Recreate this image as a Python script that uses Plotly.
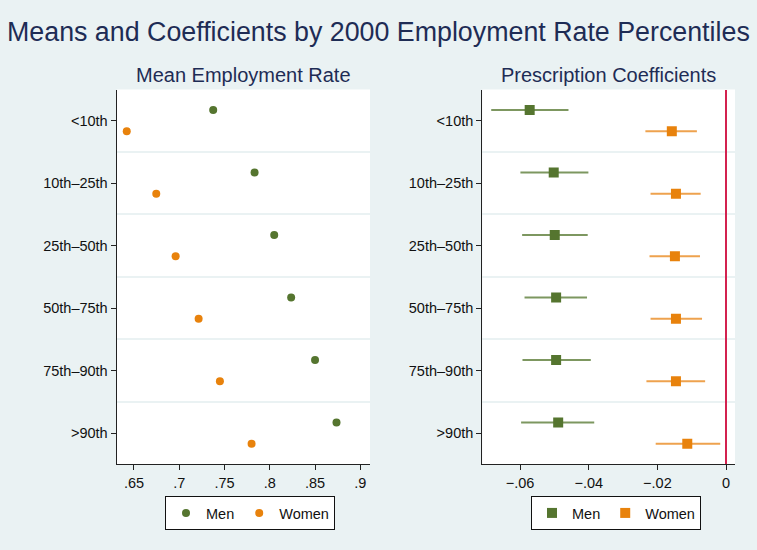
import plotly.graph_objects as go

# Percentile groups of the 2000 employment rate
groups = ["<10th", "10th\u201325th", "25th\u201350th", "50th\u201375th", "75th\u201390th", ">90th"]

# Mean employment rate by group
mean_men = [0.7375, 0.7832, 0.8049, 0.8236, 0.8500, 0.8737]
mean_women = [0.6420, 0.6746, 0.6960, 0.7214, 0.7449, 0.7799]

# Prescription coefficients with confidence bounds
coef_men = [-0.0572, -0.0502, -0.0499, -0.0495, -0.0495, -0.0489]
lo_men = [-0.0684, -0.0599, -0.0594, -0.0587, -0.0593, -0.0597]
hi_men = [-0.0459, -0.0401, -0.0403, -0.0405, -0.0394, -0.0384]
coef_women = [-0.0158, -0.0146, -0.0149, -0.0146, -0.0146, -0.0113]
lo_women = [-0.0235, -0.0220, -0.0223, -0.0220, -0.0232, -0.0205]
hi_women = [-0.0085, -0.0074, -0.0076, -0.0070, -0.0061, -0.0017]

x_ticks_left = [0.65, 0.7, 0.75, 0.8, 0.85, 0.9]
x_labels_left = [".65", ".7", ".75", ".8", ".85", ".9"]
x_ticks_right = [-0.06, -0.04, -0.02, 0]
x_labels_right = ["\u2212.06", "\u2212.04", "\u2212.02", "0"]

GREEN = "#55752f"
ORANGE = "#e8820c"
GREEN_CI = "#7d9760"
ORANGE_CI = "#eea24e"
BG = "#eaf2f3"
NAVY = "#1e2c55"
FONT = "Liberation Sans, Arial, sans-serif"
TICK_SIZE = 14.5

pos = list(range(1, len(groups) + 1))
off = 0.17
y_men = [p - off for p in pos]
y_women = [p + off for p in pos]

fig = go.Figure()

fig.add_trace(go.Scatter(
    x=mean_men, y=y_men, mode="markers", name="Men",
    marker=dict(symbol="circle", size=8, color=GREEN),
    xaxis="x", yaxis="y", legend="legend"))
fig.add_trace(go.Scatter(
    x=mean_women, y=y_women, mode="markers", name="Women",
    marker=dict(symbol="circle", size=8, color=ORANGE),
    xaxis="x", yaxis="y", legend="legend"))

fig.add_trace(go.Scatter(
    x=coef_men, y=y_men, mode="markers", name="Men",
    marker=dict(symbol="square", size=10, color=GREEN),
    error_x=dict(type="data", symmetric=False,
                 array=[h - c for h, c in zip(hi_men, coef_men)],
                 arrayminus=[c - l for c, l in zip(coef_men, lo_men)],
                 width=0, thickness=2, color=GREEN_CI),
    xaxis="x2", yaxis="y2", legend="legend2"))
fig.add_trace(go.Scatter(
    x=coef_women, y=y_women, mode="markers", name="Women",
    marker=dict(symbol="square", size=10, color=ORANGE),
    error_x=dict(type="data", symmetric=False,
                 array=[h - c for h, c in zip(hi_women, coef_women)],
                 arrayminus=[c - l for c, l in zip(coef_women, lo_women)],
                 width=0, thickness=2, color=ORANGE_CI),
    xaxis="x2", yaxis="y2", legend="legend2"))

W, H = 757, 550
ydom = [1 - 464.3 / H, 1 - 89.5 / H]

yaxis_common = dict(
    range=[6.5, 0.5], tickvals=pos, ticktext=groups,
    showgrid=False, zeroline=False,
    showline=True, linecolor="#222222", linewidth=1.2,
    ticks="outside", ticklen=5, tickcolor="#222222",
    tickfont=dict(size=TICK_SIZE, color="#111111", family=FONT),
    minor=dict(tick0=0.5, dtick=1, showgrid=True, gridcolor=BG, gridwidth=1.5, ticks=""),
    domain=ydom, fixedrange=True)

legend_common = dict(
    orientation="h", xanchor="left", yanchor="top",
    bgcolor="white", bordercolor="#111111", borderwidth=1,
    font=dict(size=TICK_SIZE, color="#111111"))

fig.update_layout(
    width=W, height=H,
    margin=dict(l=0, r=0, t=0, b=0),
    paper_bgcolor=BG, plot_bgcolor="white",
    font=dict(family=FONT, color="#111111"),
    xaxis=dict(domain=[116.7 / W, 370 / W], range=[0.6309, 0.9107],
               tickvals=x_ticks_left, ticktext=x_labels_left,
               showgrid=False, zeroline=False,
               showline=True, linecolor="#222222", linewidth=1.2,
               ticks="outside", ticklen=5, tickcolor="#222222",
               tickfont=dict(size=TICK_SIZE, color="#111111"), anchor="y"),
    yaxis=dict(**yaxis_common, anchor="x"),
    xaxis2=dict(domain=[482.3 / W, 735 / W], range=[-0.071, 0.0026],
                tickvals=x_ticks_right, ticktext=x_labels_right,
                showgrid=False, zeroline=True, zerolinecolor="#d3214f", zerolinewidth=1.5,
                showline=True, linecolor="#222222", linewidth=1.2,
                ticks="outside", ticklen=5, tickcolor="#222222",
                tickfont=dict(size=TICK_SIZE, color="#111111"), anchor="y2"),
    yaxis2=dict(**yaxis_common, anchor="x2"),
    legend=dict(**legend_common, x=165 / W, y=1 - 496 / H),
    legend2=dict(**legend_common, x=531 / W, y=1 - 496 / H),
    annotations=[
        dict(text="Means and Coefficients by 2000 Employment Rate Percentiles",
             x=0.5, y=1 - 32 / H, xref="paper", yref="paper",
             xanchor="center", yanchor="middle", showarrow=False,
             font=dict(size=26.8, color=NAVY, family=FONT)),
        dict(text="Mean Employment Rate",
             x=(116.7 + 370) / 2 / W, y=1 - 75 / H, xref="paper", yref="paper",
             xanchor="center", yanchor="middle", showarrow=False,
             font=dict(size=20, color=NAVY, family=FONT)),
        dict(text="Prescription Coefficients",
             x=(482.3 + 735) / 2 / W, y=1 - 75 / H, xref="paper", yref="paper",
             xanchor="center", yanchor="middle", showarrow=False,
             font=dict(size=20, color=NAVY, family=FONT)),
    ],
)

fig.write_html("out.html")
